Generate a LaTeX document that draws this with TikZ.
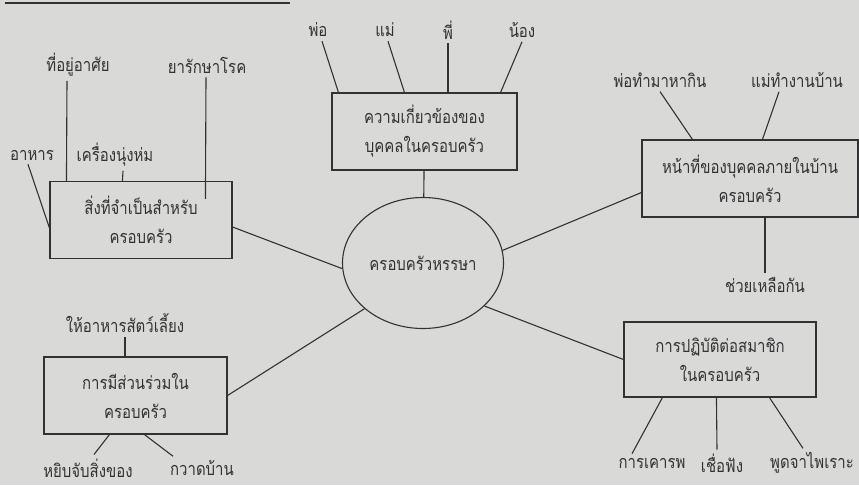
\documentclass[tikz,border=0pt]{standalone}
\usepackage{fontspec}
\newfontfamily\thaifont[Script=Thai, FakeStretch=0.83]{Loma}
\usetikzlibrary{positioning,calc,shapes.geometric}
\definecolor{paper}{RGB}{217,218,215}
\definecolor{ink}{RGB}{50,50,52}

\begin{document}
\begin{tikzpicture}[x=1pt, y=-1pt,
  nodes = {font=\thaifont\fontsize{18}{29}\selectfont, text=ink},
  box/.style = {draw=ink, line width=1.1pt, align=center, minimum height=77pt},
  leaf/.style = {inner xsep=2pt, inner ysep=4pt},
  conn/.style = {draw=ink, line width=1.1pt}
  ]
  \useasboundingbox (0,0) rectangle (859,485);
  \fill[paper] (0,0) rectangle (859,485);
  \draw[conn] (5,3) -- (290,3);

  \node[ellipse, draw=ink, line width=1.1pt, minimum width=161pt,
    minimum height=131pt, inner sep=0pt] (hub) at (423,263) {ครอบครัวหรรษา};

  \node[box, minimum width=185pt] (rel)  at (424.5,131.5) {ความเกี่ยวข้องของ\\บุคคลในครอบครัว};
  \node[box, minimum width=182pt] (need) at (141,220)     {สิ่งที่จำเป็นสำหรับ\\ครอบครัว};
  \node[box, minimum width=216pt] (duty) at (750,178.5)   {หน้าที่ของบุคคลภายในบ้าน\\ครอบครัว};
  \node[box, minimum width=183pt] (part) at (135.5,395.5) {การมีส่วนร่วมใน\\ครอบครัว};
  \node[box, minimum width=192pt, minimum height=75pt] (act) at (720,359.5) {การปฏิบัติต่อสมาชิก\\ในครอบครัว};

  \node[leaf] (pho)  at (318,30) {พ่อ};
  \node[leaf] (mae)  at (385,30) {แม่};
  \node[leaf] (phi)  at (448,30) {พี่};
  \node[leaf] (nong) at (522,30) {น้อง};

  \node[leaf] (home)  at (78,65)   {ที่อยู่อาศัย};
  \node[leaf] (med)   at (207,65)  {ยารักษาโรค};
  \node[leaf] (food)  at (32,155)  {อาหาร};
  \node[leaf] (cloth) at (115,155) {เครื่องนุ่งห่ม};

  \node[leaf] (work)  at (660,80)  {พ่อทำมาหากิน};
  \node[leaf] (house) at (797,80)  {แม่ทำงานบ้าน};
  \node[leaf] (help)  at (765,285) {ช่วยเหลือกัน};

  \node[leaf] (feed)  at (125,323) {ให้อาหารสัตว์เลี้ยง};
  \node[leaf] (pick)  at (88,468)  {หยิบจับสิ่งของ};
  \node[leaf] (sweep) at (202,468) {กวาดบ้าน};

  \node[leaf] (respect) at (652,463) {การเคารพ};
  \node[leaf] (obey)    at (722,463) {เชื่อฟัง};
  \node[leaf] (polite)  at (812,463) {พูดจาไพเราะ};

  \draw[conn] ([xshift=4pt]pho.south) -- ([xshift=7pt]rel.north west);
  \draw[conn] ([xshift=3pt]mae.south) -- ([xshift=73pt]rel.north west);
  \draw[conn] (phi) -- (phi |- rel.north);
  \draw[conn] (nong.south) -- ([xshift=-17pt]rel.north east);

  \draw[conn] ([xshift=-11pt]home.south) -- ([xshift=17pt]need.north west);
  \draw[conn] ([xshift=-1pt]med.south) -- ([xshift=156pt,yshift=-18pt]need.north west);
  \draw[conn] ([xshift=-4pt]food.south) -- ([yshift=-8pt]need.west);
  \draw[conn] ([xshift=8pt]cloth.south) -- ([xshift=73pt]need.north west);

  \draw[conn] (work.south) -- ([xshift=51pt]duty.north west);
  \draw[conn] ([xshift=-18pt]house.south) -- ([xshift=121pt]duty.north west);
  \draw[conn] (help) -- (help |- duty.south);

  \draw[conn] (feed) -- (feed |- part.north);
  \draw[conn] ([xshift=6pt]pick.north) -- ([xshift=66pt]part.south west);
  \draw[conn] ([xshift=-29pt]sweep.north) -- ([xshift=101pt]part.south west);

  \draw[conn] ([xshift=-20pt]respect.north) -- ([xshift=39pt]act.south west);
  \draw[conn] ([xshift=-5pt]obey.north) -- ([xshift=93pt]act.south west);
  \draw[conn] ([xshift=-9pt]polite.north) -- ([xshift=146pt]act.south west);

  \draw[conn] ([yshift=-7pt]need.east) -- (hub.184);
  \draw[conn] (rel) -- (hub);
  \draw[conn] ([yshift=-14pt]duty.west) -- (hub.9);
  \draw[conn] (part.east) -- (hub.218);
  \draw[conn] (act.west) -- (hub.325);
\end{tikzpicture}
\end{document}
